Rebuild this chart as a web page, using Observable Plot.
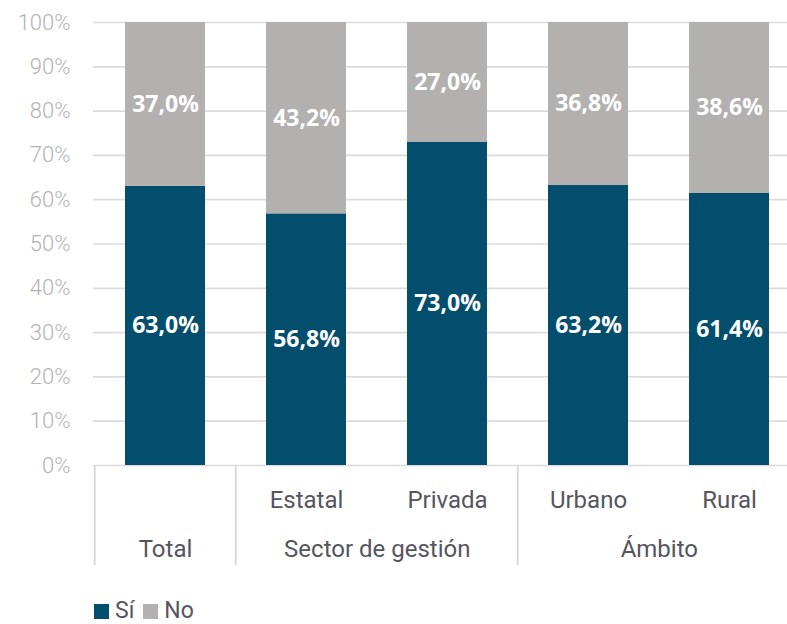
<!DOCTYPE html>
<html><head><meta charset="utf-8">
<script src="https://cdn.jsdelivr.net/npm/d3@7"></script>
<script src="https://cdn.jsdelivr.net/npm/@observablehq/plot@0.6"></script>
<style>
body{margin:0;background:#fff;}
#wrap{position:relative;width:787px;height:624px;overflow:hidden;background:#fff;}
#chart{position:absolute;left:0;top:0;}
.legend{position:absolute;left:94px;top:598px;font-family:Roboto,sans-serif;font-size:23px;color:#55555f;display:flex;align-items:center;line-height:26px;}
.sw{width:15px;height:15px;display:inline-block;margin-right:6px;}
.item{display:flex;align-items:center;margin-right:9px;}
</style></head><body>
<div id="wrap"><div id="chart"></div>
<div class="legend" id="legend"></div></div>
<script>
const categories = ["Total","Estatal","Privada","Urbano","Rural"];
const tickLabels = ["","Estatal","Privada","Urbano","Rural"];
const groups = ["Total","Sector de gestión","Ámbito"];
const groupStart = ["Total","Estatal","Urbano"];
const groupSize = [1,2,2];
const separatorAt = ["Total","Estatal","Urbano"];
const responses = ["Sí","No"];
const si = [63.0,56.8,73.0,63.2,61.4];
const no = [37.0,43.2,27.0,36.8,38.6];
const yTicks = [0,10,20,30,40,50,60,70,80,90,100];
const colors = ["#034e6c","#b2b1b0"];

const rows = [];
categories.forEach((c,i)=>{
  rows.push({cat:c, resp:"Sí", value:si[i]});
  rows.push({cat:c, resp:"No", value:no[i]});
});
const fmt = v => v.toFixed(1).replace(".",",") + "%";

const W = 787, H = 590;
const xRange = [93, 801];
const step = (xRange[1]-xRange[0]) / categories.length;

const groupMarks = groups.map((g,i) =>
  Plot.text([g], {x: () => groupStart[i], y: 0, dy: 84, dx: (groupSize[i]-1)*step/2,
    text: d=>d, fontSize: 24, fontFamily: "Roboto", fill: "#55555f", textAnchor: "middle"}));

const chart = Plot.plot({
  width: W, height: H,
  marginTop: 22, marginBottom: 125, marginLeft: 93, marginRight: 0,
  style: {background: "transparent", overflow: "visible"},
  x: {domain: categories, range: xRange, paddingInner: 0.43, paddingOuter: 0.215, axis: null},
  y: {domain: [0,100], axis: null},
  color: {domain: responses, range: colors},
  marks: [
    Plot.ruleY(yTicks, {y: d=>d, stroke: "#dcdcdc", strokeWidth: 1.7}),
    Plot.axisY({ticks: yTicks, tickSize: 0, tickPadding: 23, tickFormat: d => d + "%", label: null,
      fontSize: 22, fontFamily: "Roboto", fontWeight: 300, fill: "#b3b3b3"}),
    Plot.barY(rows, Plot.stackY({x: "cat", y: "value", fill: "resp", order: responses})),
    Plot.text(rows, Plot.stackY({x: "cat", y: "value", z: "resp", order: responses,
      text: d => fmt(d.value), fill: "white", fontSize: 23, fontWeight: 700,
      fontFamily: "Open Sans", textAnchor: "middle"})),
    Plot.ruleX(separatorAt, {x: d=>d, dx: -step/2, y1: 0, y2: -22.6, stroke: "#d6d6d6", strokeWidth: 1.7}),
    Plot.text(categories, {x: d=>d, y: 0, dy: 35, text: (d,i)=>tickLabels[i], fontSize: 24,
      fontFamily: "Roboto", fill: "#55555f", textAnchor: "middle"}),
    ...groupMarks
  ]
});
document.getElementById("chart").appendChild(chart);

const leg = document.getElementById("legend");
responses.forEach((r,i)=>{
  const it = document.createElement("span"); it.className="item";
  const sw = document.createElement("span"); sw.className="sw"; sw.style.background = colors[i];
  it.appendChild(sw); it.appendChild(document.createTextNode(r));
  leg.appendChild(it);
});
</script>
</body></html>
